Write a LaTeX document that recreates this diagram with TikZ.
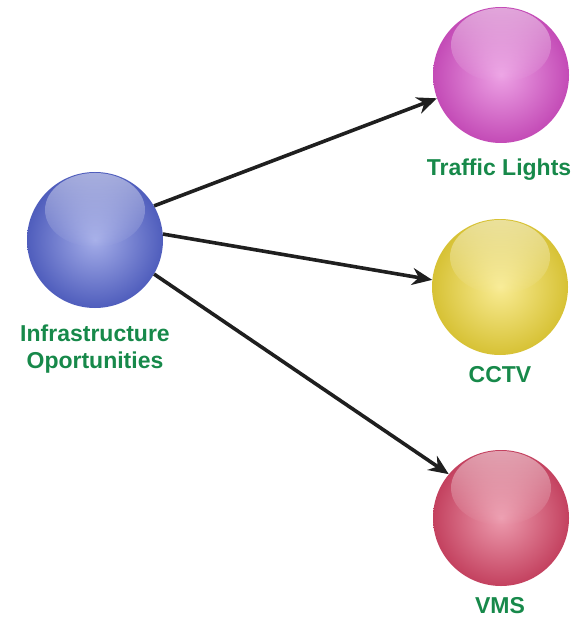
\documentclass[tikz,border=0pt]{standalone}
\usepackage{fontspec}
\setmainfont{Liberation Sans}
\usetikzlibrary{arrows.meta,fadings}
\definecolor{lblgreen}{HTML}{17894A}
\tikzset{
  lbl/.style={font=\bfseries\fontsize{23}{27}\selectfont, text=lblgreen, align=center},
  link/.style={line width=3.6pt, draw=black!88, -{Stealth[length=20pt,width=17pt]}},
}
% glossy ball: radial body plus a soft white highlight cap
\newcommand\glossball[4]{% name, x, y, colour
  \shade[inner color=#4!55!white, outer color=#4!88!black] (#2,#3) circle[radius=68];
  \fill[white, opacity=0.5, path fading=south] (#2,#3-30) ellipse[x radius=50, y radius=37];
  \node[circle, minimum size=136pt, inner sep=0pt] (#1) at (#2,#3) {};
}
\begin{document}
\begin{tikzpicture}[x=1pt, y=-1pt]
  \useasboundingbox (0,0) rectangle (581,620);
  \definecolor{cblue}{HTML}{5A6AD6}
  \definecolor{cpink}{HTML}{DE55CF}
  \definecolor{cyellow}{HTML}{F4DC3C}
  \definecolor{cred}{HTML}{DE4A6C}

  \glossball{infra}{95}{240}{cblue}
  \glossball{tl}{501}{75}{cpink}
  \glossball{cctv}{500}{287}{cyellow}
  \glossball{vms}{501}{518}{cred}

  \node[lbl] (infral) at (95,349) {Infrastructure\\Oportunities};
  \node[lbl] (tll) at (499,170) {Traffic Lights};
  \node[lbl] (cctvl) at (500,375) {CCTV};
  \node[lbl] (vmsl) at (500,606) {VMS};

  \draw[link] (infra.30) -- (tl.200);
  \draw[link] (infra.5) -- (cctv.174);
  \draw[link] (infra.-30) -- (vms.140);
\end{tikzpicture}
\end{document}
